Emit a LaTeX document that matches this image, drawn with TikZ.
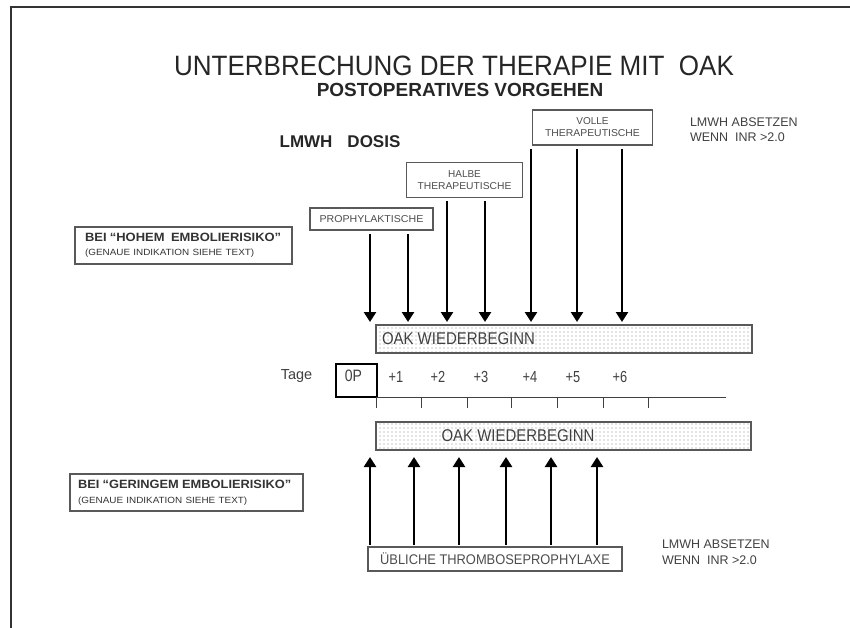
\documentclass[tikz,border=0pt]{standalone}
\usepackage{graphicx}
\usepackage{fontspec}
\setmainfont{Liberation Sans}
\usetikzlibrary{arrows.meta,patterns}
\pgfdeclarepatternformonly{sparsedots}{\pgfpoint{-1pt}{-1pt}}{\pgfpoint{1pt}{1pt}}{\pgfpoint{4pt}{4pt}}{\pgfpathcircle{\pgfpointorigin}{0.6pt}\pgfusepath{fill}}
\newcommand{\fsz}[2]{\fontsize{#1pt}{#2pt}\selectfont}
\newcommand{\sqz}[2]{\scalebox{#1}[1]{#2}}
\begin{document}
\begin{tikzpicture}[x=1pt,y=-1pt,
  every node/.style={inner sep=0pt, outer sep=0pt, text=black!85},
  lbox/.style={draw=black!65, line width=1.2pt, align=center, text=black!70},
  bar/.style={draw=black!65, line width=1.2pt, pattern=sparsedots, pattern color=black!45, minimum height=28pt},
  darr/.style={line width=2.6pt, -{Triangle[width=12pt,length=10pt]}},
  frameline/.style={line width=1.6pt, draw=black!80},
  axisline/.style={line width=0.9pt, draw=black!75}
]
\useasboundingbox (0,0) rectangle (850,628);
% frame
\coordinate (fc) at (11,7);
\coordinate (fr) at (850,7);
\coordinate (fb) at (11,628);
\draw[frameline] (fr) -- (fc) -- (fb);

% titles
\node[font=\fsz{28}{30}, text=black!85] (title) at (454,66) {\sqz{0.93}{UNTERBRECHUNG DER THERAPIE MIT\ \ OAK}};
\node[font=\bfseries\fsz{19}{22}] (sub) at (460,90) {POSTOPERATIVES VORGEHEN};
\node[font=\bfseries\fsz{17}{20}] (dosis) at (340,142) {LMWH\hspace{15pt}DOSIS};

% dose boxes
\node[lbox, minimum width=120pt, minimum height=35pt, font=\fsz{10}{12}] (volle) at (592.5,127.5) {VOLLE\\\sqz{1.04}{THERAPEUTISCHE}};
\node[lbox, minimum width=116pt, minimum height=35pt, font=\fsz{10}{12}] (halbe) at (464.5,180) {HALBE\\\sqz{1.03}{THERAPEUTISCHE}};
\node[lbox, minimum width=123pt, minimum height=22pt, font=\fsz{10}{12}] (prop) at (371.5,219) {\sqz{1.06}{PROPHYLAKTISCHE}};

% risk boxes
\node[lbox, minimum height=37pt, align=left, text width=197pt, inner xsep=10pt, font=\fsz{9}{14}, text=black!80] (hoch) at (183.5,245.5)
  {{\bfseries\fsz{12}{14}\sqz{1.08}{BEI “HOHEM\ \ EMBOLIERISIKO”}}\\\sqz{1.1}{(GENAUE INDIKATION SIEHE TEXT)}};
\node[lbox, minimum height=37pt, minimum width=233pt, align=left, text width=217pt, inner xsep=8pt, font=\fsz{9}{15}, text=black!80] (gering) at (186.5,492.5)
  {{\bfseries\fsz{12}{15}\sqz{1.07}{BEI “GERINGEM EMBOLIERISIKO”}}\\\sqz{1.1}{(GENAUE INDIKATION SIEHE TEXT)}};

% right notes
\node[anchor=north west, align=left, font=\fsz{12.5}{15}, text=black!75] (abs1) at (690,118) {LMWH ABSETZEN\\WENN\ \ INR >2.0};
\node[anchor=north west, align=left, font=\fsz{12.5}{16}, text=black!75] (abs2) at (662,540) {LMWH ABSETZEN\\WENN\ \ INR >2.0};

% bars
\node[bar, minimum width=376pt] (topbar) at (564,339) {};
\node[anchor=west, font=\fsz{17}{20}, text=black!75] (toptxt) at ([xshift=6pt]topbar.west) {\sqz{0.88}{OAK WIEDERBEGINN}};
\node[bar, minimum width=375pt] (botbar) at (563.5,436) {};
\node[font=\fsz{17}{20}, text=black!75] (bottxt) at (518,436) {\sqz{0.88}{OAK WIEDERBEGINN}};

% timeline
\node[font=\fsz{14.5}{16}, text=black!75] (tage) at (296.5,376) {Tage};
\node[draw=black, line width=2.5pt, minimum width=41pt, minimum height=33pt] (zerop) at (356.5,380.5) {};
\node[font=\fsz{16.5}{18}, text=black!75] (zeroptxt) at (353.5,376) {\sqz{0.85}{0P}};
\foreach \n/\x in {1/396,2/438,3/481,4/530,5/573,6/620}
  \node[font=\fsz{16}{18}, text=black!75] (d\n) at (\x,377) {\sqz{0.8}{+\n}};
\coordinate (axend) at (726,397);
\draw[axisline] (zerop.south east) -- (axend);
\foreach \x in {376,421,467,511,557,603,648}
  \draw[axisline] (\x,397) -- (\x,408);

% down arrows
\foreach \i/\x/\b in {1/370/prop,2/408/prop,3/447/halbe,4/485/halbe,5/531/volle,6/577/volle,7/622/volle}{
  \coordinate (da\i) at (\x,300);
  \draw[darr, shorten <=4pt, shorten >=3pt] (da\i |- \b.south) -- (da\i |- topbar.north);
}

% lower box and up arrows
\node[lbox, minimum width=254pt, minimum height=24pt, font=\fsz{14}{16}] (ublich) at (495,559) {\sqz{0.92}{ÜBLICHE THROMBOSEPROPHYLAXE}};
\foreach \i/\x in {1/370,2/414,3/459,4/506,5/551,6/597}{
  \coordinate (ua\i) at (\x,500);
  \draw[darr, shorten <=2pt, shorten >=7pt] (ua\i |- ublich.north) -- (ua\i |- botbar.south);
}
\end{tikzpicture}
\end{document}
